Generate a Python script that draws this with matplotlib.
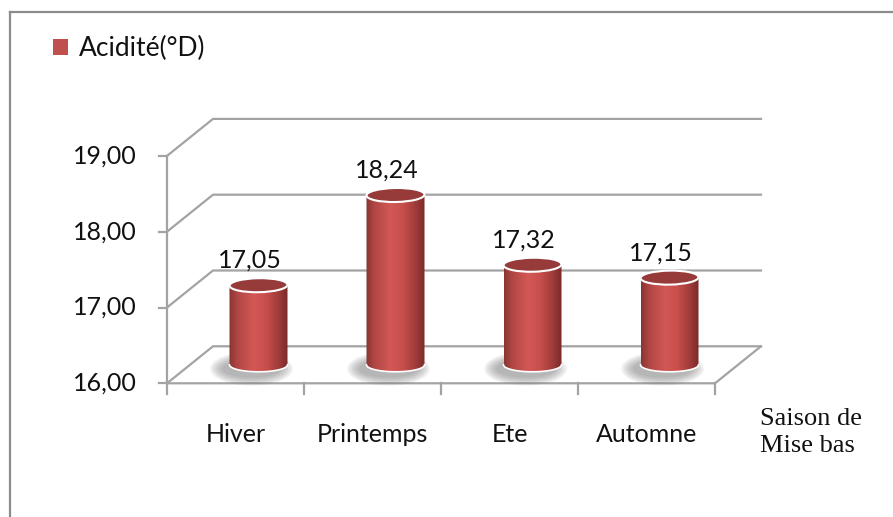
import numpy as np
import matplotlib
matplotlib.use("Agg")
import matplotlib.pyplot as plt
from matplotlib.patches import Polygon, Ellipse, Patch
from matplotlib.lines import Line2D
from matplotlib.colors import LinearSegmentedColormap

# donnees du graphique
saisons = ["Hiver", "Printemps", "Ete", "Automne"]
acidite = [17.05, 18.24, 17.32, 17.15]
graduations = [16, 17, 18, 19]
serie = "Acidité(°D)"
titre_x = "Saison de\nMise bas"

plt.rcParams["font.family"] = ["Lato", "DejaVu Sans"]

W, H = 893, 517
fig = plt.figure(figsize=(W / 100, H / 100), dpi=100)
ax = fig.add_axes([0, 0, 1, 1])
ax.axis("off")

# echelle : pixels par categorie et par unite
px_x = 137.0
px_y = 75.8
x0, y0 = 167.0, 383.3   # coin avant gauche du plancher (pixels depuis le haut)
dx = 46 / px_x          # profondeur 3D
dv = 37 / px_y

gris = "#a3a3a3"
texte = "#111111"
vmin = graduations[0]
n = len(saisons)

# murs / quadrillage
for g in graduations:
    ax.plot([0, dx, n + dx], [g, g + dv, g + dv], color=gris, lw=1.6, zorder=1,
            solid_joinstyle="miter")
    ax.plot([-8 / px_x, 0], [g, g], color=gris, lw=1.6, zorder=1)
    ax.text(-30 / px_x, g, f"{g:.2f}".replace(".", ","), ha="right", va="center",
            fontsize=18, color=texte)
ax.plot([0, 0], [vmin, graduations[-1]], color=gris, lw=1.6, zorder=1)
ax.plot([0, n, n + dx], [vmin, vmin, vmin + dv], color=gris, lw=1.6, zorder=1)
for i in range(n + 1):
    ax.plot([i, i], [vmin, vmin - 11 / px_y], color=gris, lw=1.6, zorder=1)

# etiquettes des categories
for i, s in enumerate(saisons):
    ax.text(i + 0.5, vmin - 51 / px_y, s, ha="center", va="center", fontsize=18,
            color=texte)

ax.text((760 - x0) / px_x, vmin - 49 / px_y, titre_x, ha="left", va="center",
        fontsize=19, family="Liberation Serif", linespacing=1.3, color="#111111")

# cylindres
cmap = LinearSegmentedColormap.from_list("cyl", [
    (0.0, "#8a3533"), (0.15, "#b24745"), (0.42, "#d35855"),
    (0.62, "#c94f4c"), (0.85, "#9d3b39"), (1.0, "#7a2a29")])
grad = np.linspace(0, 1, 256).reshape(1, -1)
w = 58 / px_x
eh = 14 / px_y
base = vmin + dv / 2
t1 = np.linspace(np.pi, 2 * np.pi, 60)
t2 = np.linspace(0, np.pi, 60)

for i, v in enumerate(acidite):
    cx = i + 0.5 + dx / 2
    top = v + dv / 2
    # ombre
    for k in range(6):
        ax.add_patch(Ellipse((cx - 7 / px_x, base - 4 / px_y), w * (1.02 + 0.08 * k),
                             eh * (1.3 + 0.22 * k), fc="#6a6a6a", ec="none",
                             alpha=0.1, zorder=2))
    bx = cx + w / 2 * np.cos(t1)
    by = base + eh / 2 * np.sin(t1)
    tx = cx + w / 2 * np.cos(t2)
    ty = top + eh / 2 * np.sin(t2)
    poly = Polygon(np.column_stack([np.r_[bx, tx], np.r_[by, ty]]), closed=True,
                   fc="none", ec="none", zorder=3)
    ax.add_patch(poly)
    im = ax.imshow(grad, cmap=cmap, aspect="auto", zorder=3, interpolation="bilinear",
                   extent=[cx - w / 2, cx + w / 2, base - eh, top + eh])
    im.set_clip_path(poly)
    ax.plot(bx, by, color="white", lw=1.2, zorder=4)
    ax.add_patch(Ellipse((cx, top), w, eh, angle=2, fc="#963b39", ec="white", lw=1.5,
                         zorder=5))
    ax.text(cx - 9 / px_x, top + 25 / px_y, f"{v:.2f}".replace(".", ","),
            ha="center", va="center", fontsize=18, color=texte, zorder=6)

ax.set_xlim(-x0 / px_x, (W - x0) / px_x)
ax.set_ylim(vmin - (H - y0) / px_y, vmin + y0 / px_y)

# legende
fig.legend(handles=[Patch(facecolor="#c0504d", label=serie)], loc="upper left",
           bbox_to_anchor=(53 / W, 1 - 36 / H), frameon=False, fontsize=19,
           handlelength=0.55, handleheight=0.55, handletextpad=0.45,
           borderpad=0, borderaxespad=0, labelcolor=texte)

# cadre
fig.add_artist(Line2D([10 / W, 10 / W], [0, 1 - 12 / H], transform=fig.transFigure,
                      color="#8c8c8c", lw=1.6))
fig.add_artist(Line2D([10 / W, 1], [1 - 12 / H, 1 - 12 / H], transform=fig.transFigure,
                      color="#8c8c8c", lw=1.6))

fig.savefig("out.png", dpi=100)
